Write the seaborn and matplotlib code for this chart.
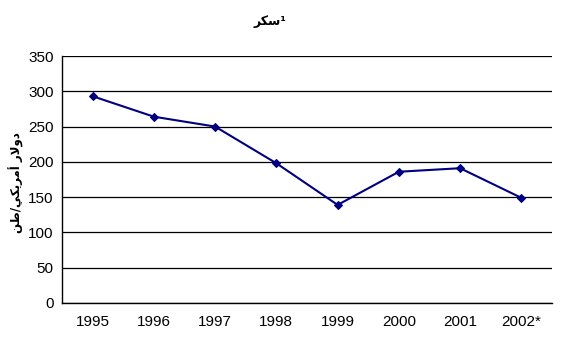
import matplotlib
matplotlib.use("Agg")
import matplotlib.pyplot as plt
import seaborn as sns
import pandas as pd
import numpy as np
from matplotlib.ticker import FixedLocator

years = ["1995", "1996", "1997", "1998", "1999", "2000", "2001", "2002*"]
prices = [293, 264, 250, 198, 139, 186, 191, 149]
yticks = [0, 50, 100, 150, 200, 250, 300, 350]

# Arabic text in presentation forms, visual (LTR) order
title = "\ufeae\ufedc\ufeb3" + "\u00b9"
ylabel = "\ufee6\ufec3/\ufef2\ufedc\ufef3\ufeae\ufee3\ufe83 \ufead\ufefb\ufeed\ufea9"

sns.set_style("white")
plt.rcParams['font.family'] = ['Liberation Sans', 'DejaVu Sans']
plt.rcParams['text.color'] = 'black'
plt.rcParams['xtick.color'] = 'black'
plt.rcParams['ytick.color'] = 'black'
plt.rcParams['axes.labelcolor'] = 'black'

df = pd.DataFrame({"year": years, "price": prices})
fig = plt.figure(figsize=(5.61, 3.56), dpi=100)
ax = fig.add_axes([62/561, 1-303/356, 490/561, 247/356])

sns.lineplot(data=df, x="year", y="price", ax=ax, color="#000080",
             marker="D", markersize=4, markeredgecolor="#000080", linewidth=1.5, sort=False)

ax.set_xlim(-0.5, len(years) - 0.5)
ax.set_ylim(0, 350)
ax.set_yticks(yticks)
ax.yaxis.grid(True, color="black", linewidth=0.9)
ax.set_axisbelow(True)
ax.set_xticks(range(len(years)))
ax.set_xticklabels(years, fontsize=11)
ax.xaxis.set_minor_locator(FixedLocator(np.arange(-0.5, len(years), 1.0)))
ax.tick_params(axis="x", which="major", length=0, pad=9, labelcolor="black")
ax.tick_params(axis="x", which="minor", length=5, width=1, color="black", direction="out")
ax.tick_params(axis="y", length=4, width=1, color="black", direction="out", labelsize=11, pad=2,
               labelcolor="black")
for s in ["top", "right"]:
    ax.spines[s].set_visible(False)
for s in ["left", "bottom"]:
    ax.spines[s].set_color("black")
    ax.spines[s].set_linewidth(1)
ax.set_xlabel("")
ax.set_ylabel(ylabel, family=["DejaVu Sans"], fontsize=8.5, fontweight="bold", color="black")
ax.yaxis.set_label_coords((24 - 62) / 490, (303 - 183) / 247)
fig.text(270/561, 1-22/356, title, family=["DejaVu Sans"], fontsize=9, fontweight="bold",
         ha="center", va="center", color="black")

fig.savefig("out.png", dpi=100)
